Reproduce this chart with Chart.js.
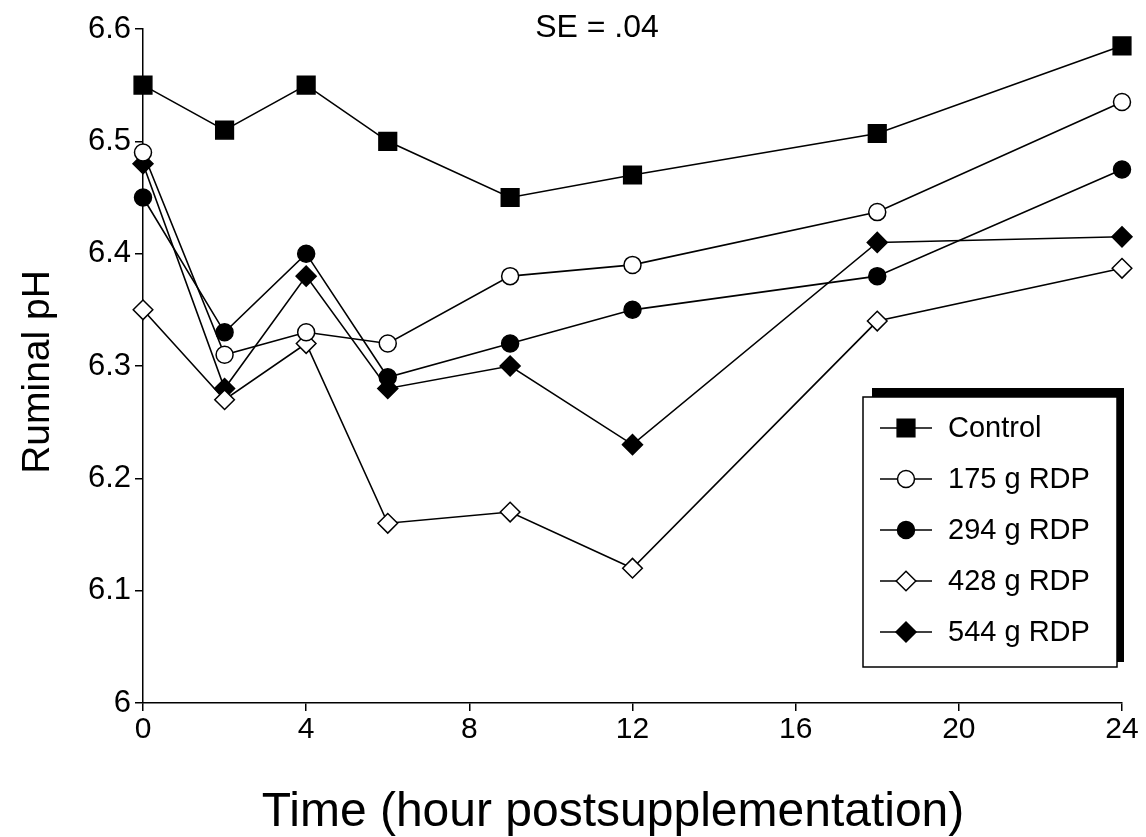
<!DOCTYPE html>
<html>
<head>
<meta charset="utf-8">
<title>Ruminal pH</title>
<script src="https://cdn.jsdelivr.net/npm/chart.js@4.4.0/dist/chart.umd.min.js"></script>
<style>
  body { margin: 0; background: #fff; }
  #wrap { width: 1146px; height: 837px; }
</style>
</head>
<body>
<div id="wrap"><canvas id="chart" width="1146" height="837"></canvas></div>
<script>
// sampling times (hours after supplement) and ruminal pH per treatment
const hours = [0, 2, 4, 6, 9, 12, 18, 24];
const seriesNames = ['Control', '175 g RDP', '294 g RDP', '428 g RDP', '544 g RDP'];
const control = [6.55, 6.51, 6.55, 6.50, 6.45, 6.47, 6.507, 6.585];
const rdp175 = [6.49, 6.31, 6.33, 6.32, 6.38, 6.39, 6.437, 6.535];
const rdp294 = [6.45, 6.33, 6.40, 6.29, 6.32, 6.35, 6.38, 6.475];
const rdp428 = [6.35, 6.27, 6.32, 6.16, 6.17, 6.12, 6.34, 6.387];
const rdp544 = [6.48, 6.28, 6.38, 6.28, 6.30, 6.23, 6.41, 6.415];
const xTicks = [0, 4, 8, 12, 16, 20, 24];
const yTicks = [6, 6.1, 6.2, 6.3, 6.4, 6.5, 6.6];
const seNote = 'SE = .04';
const xTitle = 'Time (hour postsupplementation)';
const yTitle = 'Ruminal pH';

const FONT = '"Liberation Sans", Arial, Helvetica, sans-serif';

// marker look for each treatment
const markers = [
  { pointStyle: 'rect',    fill: '#000', radius: 12.5 },
  { pointStyle: 'circle',  fill: '#fff', radius: 8.5 },
  { pointStyle: 'circle',  fill: '#000', radius: 8.5 },
  { pointStyle: 'rectRot', fill: '#fff', radius: 9.8 },
  { pointStyle: 'rectRot', fill: '#000', radius: 10 }
];

const values = [control, rdp175, rdp294, rdp428, rdp544];

const datasets = values.map((vals, i) => ({
  label: seriesNames[i],
  data: vals.map((v, j) => ({ x: hours[j], y: v })),
  borderColor: '#000',
  borderWidth: 1.6,
  fill: false,
  tension: 0,
  clip: false,
  pointStyle: markers[i].pointStyle,
  pointRadius: markers[i].radius,
  pointBackgroundColor: markers[i].fill,
  pointBorderColor: '#000',
  pointBorderWidth: 1.5
}));

function drawMarker(ctx, m, x, y) {
  ctx.save();
  ctx.fillStyle = m.fill;
  ctx.strokeStyle = '#000';
  ctx.lineWidth = 1.5;
  Chart.helpers.drawPoint(ctx, { pointStyle: m.pointStyle, radius: m.radius, rotation: 0, borderWidth: 1.5 }, x, y);
  ctx.restore();
}

// titles, SE note and the boxed legend with its drop shadow
const extras = {
  id: 'extras',
  afterDraw(chart) {
    const ctx = chart.ctx;
    const area = chart.chartArea;
    ctx.save();
    ctx.fillStyle = '#000';

    ctx.font = '32px ' + FONT;
    ctx.textAlign = 'center';
    ctx.textBaseline = 'alphabetic';
    ctx.fillText(seNote, area.left + 454, area.top + 8);

    ctx.font = '48px ' + FONT;
    ctx.fillText(xTitle, area.left + 470, 826);

    ctx.save();
    ctx.translate(49, (area.top + area.bottom) / 2 + 6);
    ctx.rotate(-Math.PI / 2);
    ctx.font = '39px ' + FONT;
    ctx.fillText(yTitle, 0, 0);
    ctx.restore();

    // legend
    const bx = area.right - 259, by = area.top + 368, bw = 254, bh = 270;
    ctx.fillStyle = '#000';
    ctx.fillRect(bx + 9, by - 9, bw - 2, bh + 4);
    ctx.fillStyle = '#fff';
    ctx.fillRect(bx, by, bw, bh);
    ctx.strokeStyle = '#000';
    ctx.lineWidth = 1.5;
    ctx.strokeRect(bx, by, bw, bh);

    ctx.font = '29px ' + FONT;
    ctx.textAlign = 'left';
    ctx.textBaseline = 'middle';
    seriesNames.forEach((name, i) => {
      const y = by + 31 + i * 51;
      ctx.beginPath();
      ctx.moveTo(bx + 17, y);
      ctx.lineTo(bx + 69, y);
      ctx.strokeStyle = '#000';
      ctx.lineWidth = 1.5;
      ctx.stroke();
      drawMarker(ctx, markers[i], bx + 43, y);
      ctx.fillStyle = '#000';
      ctx.fillText(name, bx + 85, y + 1);
    });
    ctx.restore();
  }
};

const ctx = document.getElementById('chart').getContext('2d');
new Chart(ctx, {
  type: 'line',
  data: { datasets },
  options: {
    responsive: false,
    animation: false,
    events: [],
    layout: { padding: { top: 29, right: 24, left: 0, bottom: 0 } },
    plugins: {
      legend: { display: false },
      tooltip: { enabled: false },
      title: { display: false }
    },
    scales: {
      x: {
        type: 'linear',
        min: 0,
        max: 24,
        afterBuildTicks: s => { s.ticks = xTicks.map(v => ({ value: v })); },
        afterFit: s => { s.height = 134; },
        ticks: {
          color: '#000',
          font: { family: FONT, size: 30 },
          padding: 1,
          maxRotation: 0,
          autoSkip: false,
          callback: v => String(v)
        },
        grid: { drawOnChartArea: false, drawTicks: true, tickLength: 8, color: '#000', lineWidth: 1.5 },
        border: { color: '#000', width: 1.5 }
      },
      y: {
        min: 6,
        max: 6.6,
        afterBuildTicks: s => { s.ticks = yTicks.map(v => ({ value: v })); },
        afterFit: s => { s.width = 143; },
        ticks: {
          color: '#000',
          font: { family: FONT, size: 31 },
          padding: 4,
          autoSkip: false,
          callback: v => String(v)
        },
        grid: { drawOnChartArea: false, drawTicks: true, tickLength: 8, color: '#000', lineWidth: 1.5 },
        border: { color: '#000', width: 1.5 }
      }
    }
  },
  plugins: [extras]
});
</script>
</body>
</html>
